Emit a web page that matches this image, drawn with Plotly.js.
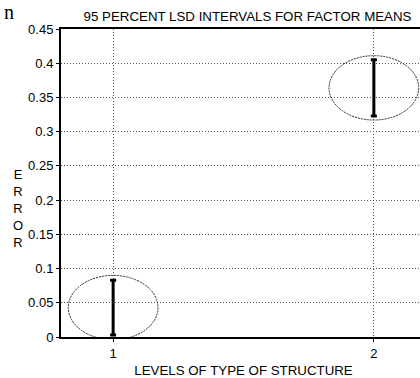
<!DOCTYPE html>
<html><head><meta charset="utf-8">
<script src="https://cdn.plot.ly/plotly-3.0.1.min.js"></script>
<style>html,body{margin:0;padding:0;overflow:hidden;background:#fff;width:420px;height:378px}#c{width:430px;height:378px}</style>
</head><body><div id="c"></div>
<script>
const levels = [1, 2];
const means = [0.043, 0.364];
const halfWidths = [0.040, 0.041];
const yTicks = [0, 0.05, 0.1, 0.15, 0.2, 0.25, 0.3, 0.35, 0.4, 0.45];
const yTickText = ['0', '0.05', '0.1', '0.15', '0.2', '0.25', '0.3', '0.35', '0.4', '0.45'];
const xTickText = ['1', '2'];

const font = 'Liberation Sans, Arial, sans-serif';
const ellipseRx = 0.172, ellipseRy = 0.047;

const shapes = levels.map((lv, i) => ({
  type: 'circle', xref: 'x', yref: 'y',
  x0: lv - ellipseRx, x1: lv + ellipseRx,
  y0: means[i] - ellipseRy, y1: means[i] + ellipseRy,
  line: {color: '#222', width: 1, dash: '2px,1px'}
}));

const trace = {
  x: levels, y: means, type: 'scatter', mode: 'markers',
  marker: {size: 1, color: 'black'},
  error_y: {type: 'data', array: halfWidths, visible: true, color: 'black', thickness: 3, width: 3},
  hoverinfo: 'none', showlegend: false
};

const layout = {
  width: 430, height: 378,
  margin: {l: 61, r: 4, t: 29, b: 41},
  paper_bgcolor: '#fff', plot_bgcolor: '#fff',
  font: {family: font, color: '#000', size: 13},
  title: {text: '95 PERCENT LSD INTERVALS FOR FACTOR MEANS', font: {size: 13.3, family: font, color: '#000'},
          x: 0.511, xref: 'paper', y: 0.968, yref: 'container', xanchor: 'center'},
  xaxis: {range: [0.8, 2.2], tickvals: levels, ticktext: xTickText,
          showgrid: true, gridcolor: '#555', griddash: '1px,2px', gridwidth: 1,
          showline: true, mirror: true, linecolor: 'black', linewidth: 2,
          ticks: 'outside', ticklen: 3, tickcolor: 'black', zeroline: false,
          tickfont: {size: 13, family: font, color: '#000'},
          title: {text: 'LEVELS OF TYPE OF STRUCTURE', font: {size: 13.3, family: font, color: '#000'}, standoff: 9}},
  yaxis: {range: [0, 0.45], tickvals: yTicks, ticktext: yTickText,
          showgrid: true, gridcolor: '#555', griddash: '1px,2px', gridwidth: 1,
          showline: true, mirror: true, linecolor: 'black', linewidth: 2,
          ticks: 'outside', ticklen: 3, tickcolor: 'black', zeroline: false,
          tickfont: {size: 13, family: font, color: '#000'}},
  shapes: shapes,
  annotations: [
    {text: 'E<br>R<br>R<br>O<br>R', xref: 'paper', yref: 'paper', x: 0, y: 0.417, xshift: -43,
     showarrow: false, font: {size: 13, family: font, color: '#000'}, align: 'center', xanchor: 'center', yanchor: 'middle'},
    {text: 'n', xref: 'paper', yref: 'paper', x: 0, y: 1, xshift: -52, yshift: 17, borderpad: 0,
     showarrow: false, font: {size: 20, family: 'Liberation Serif, serif', color: '#000'}, xanchor: 'center', yanchor: 'middle'}
  ]
};

Plotly.newPlot('c', [trace], layout, {staticPlot: true, displayModeBar: false});
</script></body></html>
